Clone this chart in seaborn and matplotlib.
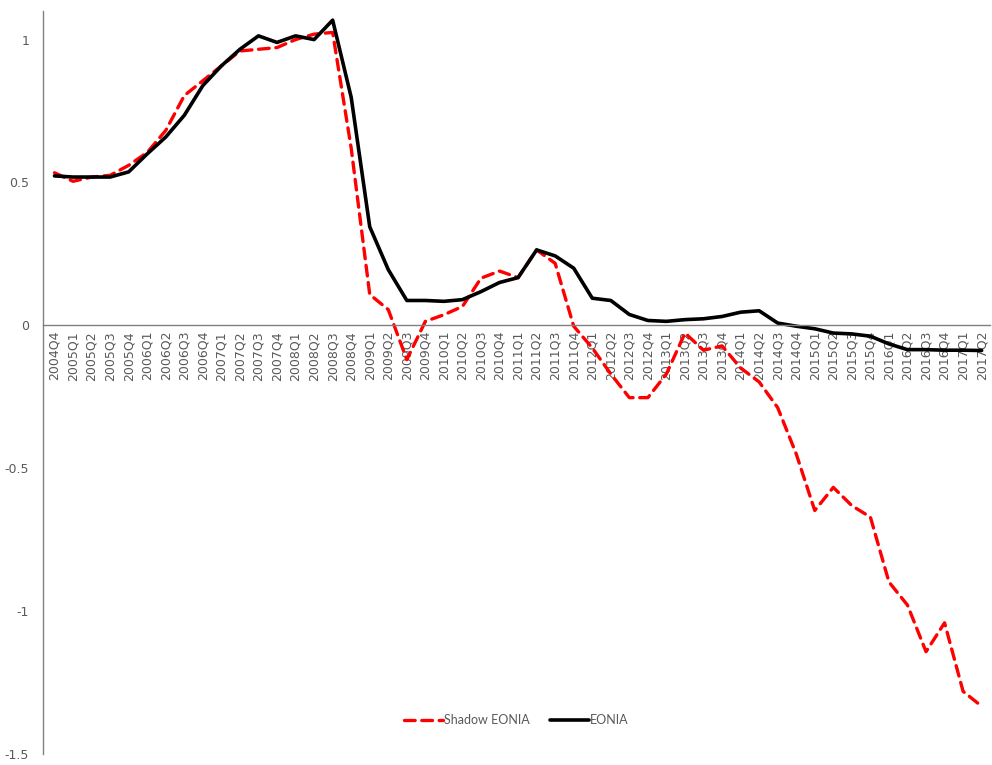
import matplotlib
matplotlib.use("Agg")
import matplotlib.pyplot as plt
import seaborn as sns
import pandas as pd

quarters = [
    "2004Q4",
    "2005Q1", "2005Q2", "2005Q3", "2005Q4",
    "2006Q1", "2006Q2", "2006Q3", "2006Q4",
    "2007Q1", "2007Q2", "2007Q3", "2007Q4",
    "2008Q1", "2008Q2", "2008Q3", "2008Q4",
    "2009Q1", "2009Q2", "2009Q3", "2009Q4",
    "2010Q1", "2010Q2", "2010Q3", "2010Q4",
    "2011Q1", "2011Q2", "2011Q3", "2011Q4",
    "2012Q1", "2012Q2", "2012Q3", "2012Q4",
    "2013Q1", "2013Q2", "2013Q3", "2013Q4",
    "2014Q1", "2014Q2", "2014Q3", "2014Q4",
    "2015Q1", "2015Q2", "2015Q3", "2015Q4",
    "2016Q1", "2016Q2", "2016Q3", "2016Q4",
    "2017Q1", "2017Q2",
]

shadow_eonia = [
    0.534,
    0.504, 0.519, 0.525, 0.560,
    0.605, 0.682, 0.804, 0.856,
    0.908, 0.960, 0.966, 0.972,
    1.000, 1.019, 1.025, 0.620,
    0.108, 0.055, -0.120, 0.014,
    0.037, 0.066, 0.165, 0.190,
    0.167, 0.264, 0.217, -0.003,
    -0.079, -0.170, -0.253, -0.253,
    -0.170, -0.027, -0.087, -0.072,
    -0.149, -0.198, -0.288, -0.450,
    -0.648, -0.567, -0.631, -0.671,
    -0.898, -0.979, -1.142, -1.041,
    -1.281, -1.333,
]

eonia = [
    0.523,
    0.519, 0.519, 0.519, 0.537,
    0.600, 0.659, 0.735, 0.839,
    0.908, 0.966, 1.013, 0.990,
    1.013, 1.000, 1.068, 0.798,
    0.345, 0.195, 0.087, 0.087,
    0.084, 0.090, 0.118, 0.150,
    0.167, 0.264, 0.243, 0.200,
    0.095, 0.087, 0.038, 0.017,
    0.014, 0.020, 0.023, 0.031,
    0.046, 0.051, 0.008, -0.003,
    -0.012, -0.027, -0.030, -0.038,
    -0.065, -0.085, -0.085, -0.087,
    -0.087, -0.088,
]

y_ticks = [-1.5, -1, -0.5, 0, 0.5, 1]
y_tick_labels = ["-1.5", "-1", "-0.5", "0", "0.5", "1"]

df = pd.DataFrame({"quarter": quarters, "Shadow EONIA": shadow_eonia, "EONIA": eonia})

sns.set_style("white")
plt.rcParams["font.family"] = ["DejaVu Sans"]

fig = plt.figure(figsize=(9.92, 7.65), dpi=100)
ax = fig.add_axes([43 / 992, 11 / 765, 947 / 992, 743 / 765])

sns.lineplot(data=df, x="quarter", y="Shadow EONIA", ax=ax, color="#ff0000",
             linewidth=2.4, label="Shadow EONIA", sort=False)
ax.lines[-1].set_dashes((3.2, 2.0))
ax.lines[-1].set_dash_capstyle("round")
sns.lineplot(data=df, x="quarter", y="EONIA", ax=ax, color="#000000",
             linewidth=2.6, label="EONIA", sort=False)

ax.set_xlim(-0.62, len(quarters) - 0.55)
ax.set_ylim(-1.5, 1.1)
ax.set_xlabel("")
ax.set_ylabel("")

# y axis: plain spine on the left, labels in grey, no tick marks
ax.set_yticks(y_ticks)
ax.set_yticklabels(y_tick_labels)
ax.tick_params(axis="y", length=0, pad=10, labelsize=9, labelcolor="#595959")

# x axis sits on the zero line, quarter labels rotated underneath it
ax.spines["bottom"].set_position(("data", 0))
ax.spines["bottom"].set_color("#808080")
ax.spines["bottom"].set_linewidth(1.0)
ax.spines["left"].set_color("#808080")
ax.spines["left"].set_linewidth(1.0)
ax.spines["top"].set_visible(False)
ax.spines["right"].set_visible(False)
ax.set_xticks(range(len(quarters)))
ax.set_xticklabels(quarters, rotation=90)
ax.tick_params(axis="x", length=0, pad=4, labelsize=9, labelcolor="#595959")
ax.grid(False)

leg = ax.legend(loc="lower center", bbox_to_anchor=(0.5, 0.022), ncol=2, frameon=False,
                handlelength=3.1, handletextpad=0.1, columnspacing=1.6,
                prop={"family": "Lato", "size": 9})
for t in leg.get_texts():
    t.set_color("#595959")

fig.savefig("out.png", dpi=100, facecolor="white")
